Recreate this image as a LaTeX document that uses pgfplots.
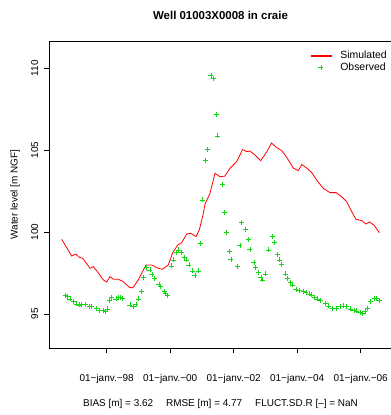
\documentclass[border=0pt]{standalone}
\usepackage{fontspec}
\setmainfont{Liberation Sans}
\usepackage{pgfplots}
\pgfplotsset{compat=1.18}
\definecolor{simred}{RGB}{255,0,0}
\definecolor{obsgreen}{RGB}{20,215,20}

% simulated water level (decimal year, m NGF)
\pgfplotstableread{
x y
1996.583 99.56
1996.898 98.54
1997.024 98.66
1997.137 98.46
1997.244 98.40
1997.474 97.79
1997.578 97.89
1997.685 97.64
1997.893 97.08
1998.000 96.95
1998.104 97.28
1998.208 97.12
1998.365 97.12
1998.523 96.97
1998.712 96.63
1998.819 96.59
1998.995 97.08
1999.238 97.99
1999.417 97.99
1999.625 97.79
1999.751 97.73
1999.940 97.99
2000.079 98.74
2000.236 99.21
2000.362 99.35
2000.520 99.88
2000.646 99.93
2000.813 99.72
2000.917 100.13
2001.033 101.04
2001.096 101.70
2001.254 102.37
2001.411 103.59
2001.569 103.38
2001.726 103.42
2001.883 103.90
2002.094 104.30
2002.283 105.05
2002.409 104.91
2002.513 104.95
2002.671 104.71
2002.850 104.36
2003.039 104.89
2003.191 105.44
2003.354 105.16
2003.512 104.98
2003.669 104.57
2003.877 103.91
2004.035 103.75
2004.142 104.13
2004.299 103.91
2004.457 103.63
2004.614 103.18
2004.822 102.67
2005.033 102.41
2005.222 102.41
2005.402 102.16
2005.559 101.86
2005.717 101.25
2005.852 100.78
2006.031 100.70
2006.167 100.49
2006.271 100.62
2006.419 100.43
2006.586 99.96
}\simulated

% observed water level (decimal year, m NGF)
\pgfplotstableread{
x y
1996.687 96.12
1996.759 96.06
1996.844 95.92
1996.948 95.75
1997.055 95.61
1997.137 95.55
1997.213 95.59
1997.317 95.59
1997.452 95.45
1997.528 95.45
1997.685 95.35
1997.767 95.24
1997.893 95.20
1997.969 95.14
1998.031 95.31
1998.082 95.85
1998.157 96.02
1998.293 95.92
1998.365 96.00
1998.419 96.02
1998.504 95.96
1998.734 95.55
1998.838 95.45
1998.923 95.59
1999.008 95.92
1999.090 96.40
1999.153 97.24
1999.260 97.85
1999.364 97.69
1999.427 97.42
1999.499 97.18
1999.647 96.81
1999.701 96.67
1999.805 96.40
1999.858 96.26
1999.921 96.14
2000.047 97.93
2000.098 98.30
2000.205 98.77
2000.268 98.91
2000.362 98.77
2000.444 98.46
2000.498 98.30
2000.592 97.99
2000.696 97.63
2000.781 97.36
2000.876 97.63
2000.939 99.32
2001.024 101.96
2001.106 104.40
2001.169 105.05
2001.285 109.59
2001.357 109.39
2001.443 107.21
2001.496 105.87
2001.641 102.92
2001.704 101.21
2001.780 99.99
2001.861 98.80
2001.915 98.34
2002.113 97.90
2002.198 99.19
2002.252 100.60
2002.378 100.17
2002.460 99.56
2002.513 98.95
2002.639 98.16
2002.693 97.85
2002.775 97.52
2002.860 97.24
2002.913 97.08
2002.995 97.44
2003.090 98.91
2003.228 99.76
2003.279 99.35
2003.386 98.66
2003.436 98.30
2003.512 98.03
2003.638 97.44
2003.688 97.18
2003.795 96.91
2003.858 96.77
2003.962 96.51
2004.066 96.42
2004.192 96.36
2004.277 96.30
2004.372 96.22
2004.457 96.16
2004.539 96.02
2004.646 95.92
2004.740 95.81
2004.876 95.65
2004.980 95.49
2005.118 95.35
2005.244 95.35
2005.348 95.45
2005.452 95.49
2005.559 95.45
2005.685 95.31
2005.789 95.24
2005.874 95.18
2005.978 95.10
2006.063 95.04
2006.135 95.14
2006.220 95.35
2006.315 95.79
2006.419 95.96
2006.504 95.96
2006.586 95.85
}\observed

\begin{document}
\begin{tikzpicture}
\begin{axis}[
  name=ax,
  scale only axis,
  width=343bp, height=307bp,
  xmin=1996.183, xmax=2006.986,
  ymin=92.92, ymax=111.67,
  axis line style={line width=0.8bp},
  tick align=outside,
  major tick length=5bp,
  tick style={black, line width=0.6bp},
  xtick pos=bottom, ytick pos=left,
  xtick={1998,2000,2002,2004,2006},
  xticklabels={01−janv.−98, 01−janv.−00, 01−janv.−02, 01−janv.−04, 01−janv.−06},
  ytick={95,100,105,110},
  /pgf/number format/assume math mode=true,
  ticklabel style={font=\fontsize{10}{12}\selectfont},
  xticklabel style={anchor=base},
  xticklabel shift=28bp,
  yticklabel style={rotate=90, anchor=base},
  yticklabel shift=6bp,
  title={Well 01003X0008 in craie},
  title style={at={(axis description cs:0.5,1)}, anchor=base, yshift=16bp,
    font=\fontsize{11.5}{13}\selectfont\bfseries},
  xlabel={BIAS [m] = 3.62\hspace{1.3em}RMSE [m] = 4.77\hspace{1.3em}FLUCT.SD.R [–] = NaN},
  xlabel style={at={(axis description cs:0.5,0)}, anchor=base, yshift=-58bp,
    font=\fontsize{10}{12}\selectfont},
  ylabel={Water level [m NGF]},
  ylabel style={at={(axis description cs:-0.0918,0.5)}, anchor=base,
    font=\fontsize{10}{12}\selectfont},
  legend cell align=left,
  legend style={draw=none, fill=none, at={(rel axis cs:1,1)}, anchor=north east,
    yshift=-6bp, font=\fontsize{10.5}{12.7}\selectfont, row sep=-1bp,
    /tikz/every odd column/.append style={column sep=7bp}},
]
\addplot[color=simred, line width=0.8bp,
  legend image code/.code={
    \begin{scope}[color=simred]
      \fill (0bp,-0.3bp) rectangle (20bp,0.3bp);
    \end{scope}}] table {\simulated};
\addlegendentry{Simulated}
\addplot[color=obsgreen, only marks, mark=+, mark size=2.5bp, line width=0.6bp,
  mark options={color=obsgreen},
  legend image code/.code={
    \begin{scope}[color=obsgreen]
      \draw[only marks, mark=+, mark size=2.5bp, line width=0.6bp,
        mark options={color=obsgreen}] plot coordinates {(10bp,0bp)};
    \end{scope}}] table {\observed};
\addlegendentry{Observed}
\end{axis}
\pgfresetboundingbox
\useasboundingbox ([shift={(-49bp,-67bp)}]ax.south west) rectangle ([shift={(-1bp,41bp)}]ax.north east);
\end{tikzpicture}
\end{document}
